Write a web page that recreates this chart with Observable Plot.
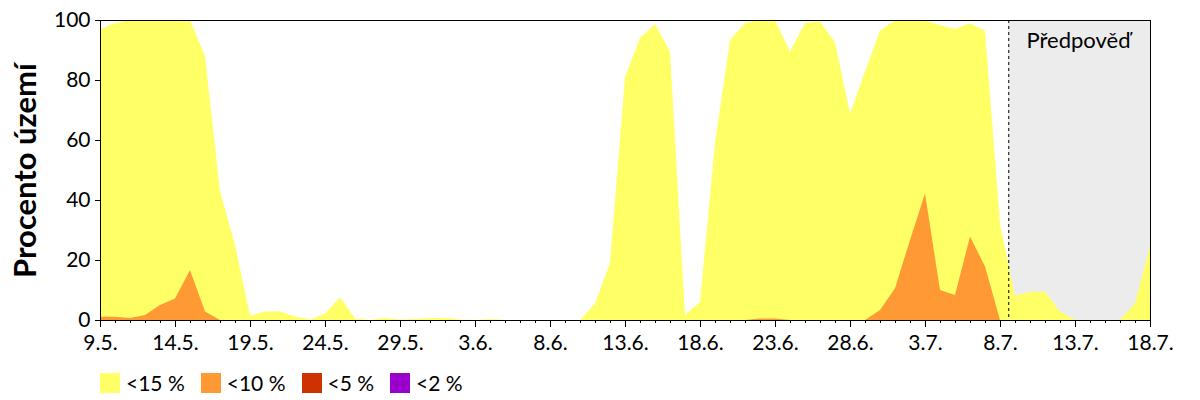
<!DOCTYPE html>
<html>
<head>
<meta charset="utf-8">
<script src="https://cdn.jsdelivr.net/npm/d3@7"></script>
<script src="https://cdn.jsdelivr.net/npm/@observablehq/plot@0.6"></script>
<style>
  body { margin: 0; background: white; font-family: Lato, sans-serif; }
  #legend { display: flex; align-items: center; margin-left: 100px; padding-top: 10px; font-size: 21px; color: #000; }
  #legend .item { display: flex; align-items: center; margin-right: 16px; }
  #legend .sw { width: 20px; height: 20px; margin-right: 6px; }
</style>
</head>
<body>
<div id="chart"></div>
<div id="legend"></div>
<script>
// Daily values, 9.5. (index 0) to 18.7. (index 70)
const dayIndex = d3.range(71);
const below15 = [97, 99, 100, 100, 100, 100, 100, 88, 43, 25,
  1.5, 2.8, 2.8, 1.2, 0.2, 2.2, 7.6, 0.5, 0, 0.7,
  0.2, 0.3, 0.7, 0.7, 0.2, 0, 0.3, 0, 0, 0,
  0, 0, 0, 5.5, 19, 81, 94, 98.7, 89.4, 1.7,
  6, 59, 93.3, 99, 100, 100, 89.4, 99, 99.6, 92.6,
  68.8, 82.8, 96.4, 100, 100, 99.8, 98.3, 97, 98.9, 96.4,
  32, 8, 9.4, 9.4, 2.8, 0, 0, 0, 0, 5.6,
  24.4];
const below10 = [1.1, 1.1, 0.7, 1.7, 5, 7.2, 16.7, 2.8, 0, 0,
  0, 0, 0, 0, 0, 0, 0, 0, 0, 0,
  0, 0, 0, 0, 0, 0, 0, 0, 0, 0,
  0, 0, 0, 0, 0, 0, 0, 0, 0, 0,
  0, 0, 0, 0, 0.5, 0.5, 0, 0, 0, 0,
  0, 0, 3.3, 10.6, 26.7, 42.2, 10, 8.3, 27.8, 17.8,
  0, 0, 0, 0, 0, 0, 0, 0, 0, 0,
  0];
const xTickIndex = [0, 5, 10, 15, 20, 25, 30, 35, 40, 45, 50, 55, 60, 65, 70];
const xTickLabels = ["9.5.", "14.5.", "19.5.", "24.5.", "29.5.", "3.6.", "8.6.", "13.6.", "18.6.", "23.6.", "28.6.", "3.7.", "8.7.", "13.7.", "18.7."];
const yTicks = [0, 20, 40, 60, 80, 100];
const forecastStart = 60.55;
const forecastEnd = 70;
const forecastLabel = "Předpověď";
const yLabel = "Procento území";
const legendNames = ["<15 %", "<10 %", "<5 %", "<2 %"];
const legendColors = ["#ffff66", "#ff9933", "#cc3300", "#9900cc"];

const rows = dayIndex.map(i => ({i, a: below15[i], b: below10[i]}));

const chart = Plot.plot({
  width: 1200,
  height: 360,
  marginLeft: 100,
  marginRight: 50,
  marginTop: 20,
  marginBottom: 40,
  style: {fontFamily: "Lato, sans-serif", fontSize: "20px", background: "white", color: "black"},
  x: {domain: [0, 70]},
  y: {domain: [0, 100]},
  marks: [
    Plot.rect([{x1: forecastStart, x2: forecastEnd}], {x1: "x1", x2: "x2", y1: 0, y2: 100, fill: "#ececec"}),
    Plot.areaY(rows, {x: "i", y1: 0, y2: "a", fill: legendColors[0]}),
    Plot.areaY(rows, {x: "i", y1: 0, y2: "b", fill: legendColors[1]}),
    Plot.ruleX([forecastStart], {stroke: "black", strokeDasharray: "3,3", strokeWidth: 1}),
    Plot.text([forecastLabel], {x: 65.2, y: 93.3, text: d => d, fontSize: 22, fill: "black"}),
    Plot.text([yLabel], {frameAnchor: "left", textAnchor: "middle", text: d => d, rotate: -90, dx: -74, fontSize: 31, fontWeight: "bold", fill: "black"}),
    Plot.axisY({ticks: yTicks, tickSize: 5, tickPadding: 5, label: null, fontSize: 21}),
    Plot.axisX({ticks: dayIndex, tickSize: 3, tickFormat: () => "", label: null}),
    Plot.axisX({ticks: xTickIndex, tickSize: 7, tickPadding: 8, tickFormat: d => xTickLabels[xTickIndex.indexOf(d)], label: null, fontSize: 21}),
    Plot.frame({stroke: "black"})
  ]
});
document.getElementById("chart").append(chart);

const legend = document.getElementById("legend");
legendNames.forEach((name, k) => {
  const item = document.createElement("div");
  item.className = "item";
  const sw = document.createElement("div");
  sw.className = "sw";
  sw.style.background = legendColors[k];
  const t = document.createElement("span");
  t.textContent = name;
  item.append(sw, t);
  legend.append(item);
});
</script>
</body>
</html>
